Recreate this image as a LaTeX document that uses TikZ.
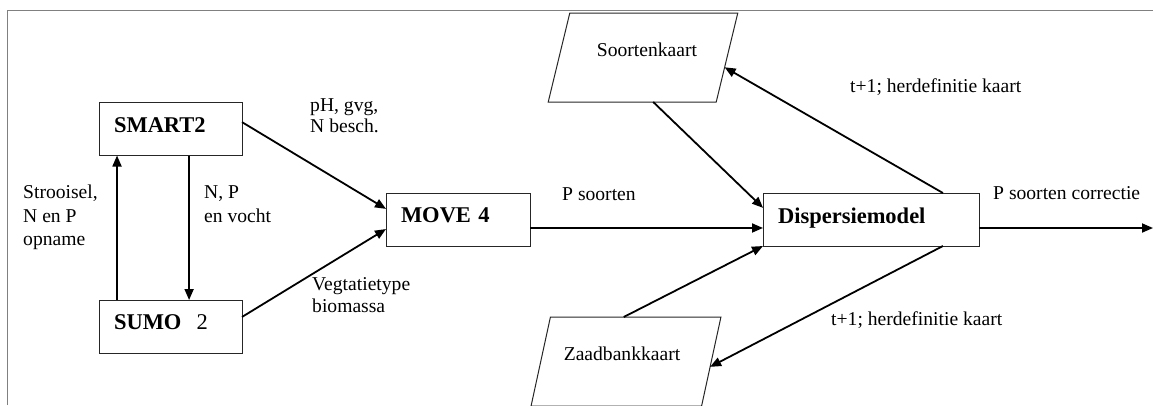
\documentclass[tikz,border=0pt]{standalone}
\usepackage{fontspec}
\setmainfont{Liberation Serif}
\usetikzlibrary{arrows.meta,shapes.geometric,calc}
\begin{document}
\begin{tikzpicture}[x=1pt,y=-1pt,
  box/.style={draw=black!85, line width=1pt, rectangle, outer sep=0pt,
    minimum height=53pt, inner xsep=15pt, inner ysep=0pt, text depth=8pt,
    align=left, font=\fontsize{22.5}{26}\selectfont\bfseries},
  para/.style={draw=black!85, line width=1pt, trapezium, outer sep=0pt,
    trapezium left angle=61.7, trapezium right angle=118.3,
    trapezium stretches=true, minimum width=190pt, minimum height=89pt,
    inner sep=0pt, text depth=16pt, font=\fontsize{19.6}{22}\selectfont},
  lab/.style={inner sep=0pt, align=left, font=\fontsize{19.6}{22.5}\selectfont},
  arr/.style={line width=1.8pt, -{Triangle[length=11pt,width=9pt]}},
  frame/.style={draw=gray, line width=1.2pt}
]
\useasboundingbox (0,0) rectangle (1153,405);
\draw[frame] (7.5,405) -- (7.5,10.5) -- (1153,10.5);

% boxes
\node[box, text width=113pt] (sm) at (170.5,129) {SMART2};
\node[box, text width=113pt] (su) at (170.5,326.5) {SUMO\ \ \textmd{2}};
\node[box, text width=114pt] (mv) at (458,219.5) {MOVE 4};
\node[box, text width=186pt] (dm) at (871,219.5) {Dispersiemodel};
\node[para] (sk) at (643,57.5) {\hspace*{8pt}Soortenkaart};
\node[para] (zk) at (626,361.5) {Zaadbankkaart\hspace*{8pt}};
\coordinate (out) at (1153,228);

% labels
\node[lab, anchor=north west, font=\fontsize{19.6}{21}\selectfont] (l1) at (310,98) {pH, gvg,\\N besch.};
\node[lab, anchor=north west, font=\fontsize{19.6}{23.5}\selectfont] (l2) at (23,185) {Strooisel,\\N en P\\opname};
\node[lab, anchor=north west, font=\fontsize{19.6}{24}\selectfont] (l3) at (204,185) {N, P\\en vocht};
\node[lab, anchor=north west, font=\fontsize{19.6}{22}\selectfont] (l4) at (312,277) {Vegtatietype\\biomassa};
\node[lab, anchor=base west] (l5) at (562,200) {P soorten};
\node[lab, anchor=base west] (l6) at (850,92) {t+1; herdefinitie kaart};
\node[lab, anchor=base west] (l7) at (993,199) {P soorten correctie};
\node[lab, anchor=base west] (l8) at (831,325) {t+1; herdefinitie kaart};

% connectors
\draw[arr] ($(sm.north east)!0.37!(sm.south east)$) -- ($(mv.north west)!0.3!(mv.south west)$);
\draw[arr] ($(su.north east)!0.32!(su.south east)$) -- ($(mv.north west)!0.68!(mv.south west)$);
\draw[arr] ($(su.north west)!0.126!(su.north east)$) -- ($(sm.south west)!0.126!(sm.south east)$);
\draw[arr] ($(sm.south west)!0.63!(sm.south east)$) -- ($(su.north west)!0.63!(su.north east)$);
\draw[arr] ($(mv.north east)!0.66!(mv.south east)$) -- ($(dm.north west)!0.66!(dm.south west)$);
\draw[arr] ($(sk.bottom left corner)!0.625!(sk.bottom right corner)$) -- ($(dm.north west)!0.28!(dm.south west)$);
\draw[arr] ($(zk.top left corner)!0.43!(zk.top right corner)$) -- (dm.south west);
\draw[arr] ($(dm.north west)!0.833!(dm.north east)$) -- ($(sk.top right corner)!0.61!(sk.bottom right corner)$);
\draw[arr] ($(dm.south west)!0.833!(dm.south east)$) -- ($(zk.top right corner)!0.56!(zk.bottom right corner)$);
\draw[arr] ($(dm.north east)!0.66!(dm.south east)$) -- (out);
\end{tikzpicture}
\end{document}
